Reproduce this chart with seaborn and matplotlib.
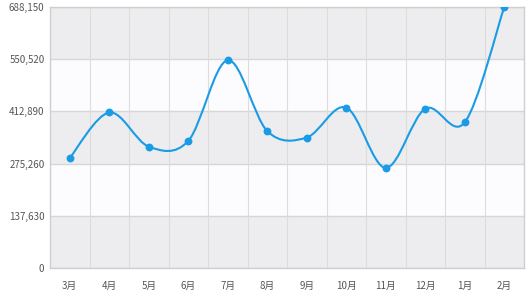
import numpy as np
import pandas as pd
import matplotlib
matplotlib.use("Agg")
import matplotlib.pyplot as plt
from matplotlib.path import Path
from matplotlib.patches import PathPatch
import seaborn as sns

months = ["3月", "4月", "5月", "6月", "7月", "8月", "9月", "10月", "11月", "12月", "1月", "2月"]
values = [290000, 410000, 320000, 335000, 548000, 361000, 344000, 423000, 264000, 420000, 384000, 688150]
y_ticks = [0, 137630, 275260, 412890, 550520, 688150]
y_tick_labels = ["0", "137,630", "275,260", "412,890", "550,520", "688,150"]

LINE = "#1a9be6"
GRID = "#d6d6d8"
BAND_DARK = "#ededef"
BAND_LIGHT = "#fcfcfe"

sns.set_style("white")
plt.rcParams["font.family"] = ["Noto Sans CJK SC", "DejaVu Sans"]

df = pd.DataFrame({"month": months, "value": values, "x": np.arange(len(months))})

fig = plt.figure(figsize=(5.29, 3.04), dpi=100)
ax = fig.add_axes([50 / 529, 36 / 304, 474 / 529, 261 / 304])

# alternating bands
for i in range(len(y_ticks) - 1):
    ax.axhspan(y_ticks[i], y_ticks[i + 1], color=BAND_DARK if i % 2 == 0 else BAND_LIGHT, zorder=0, lw=0)

# grid lines
for yv in y_ticks:
    ax.axhline(yv, color=GRID, lw=1.0, zorder=1)
for k in range(len(months) + 1):
    ax.axvline(k - 0.5, color="#dcdcdc", lw=0.8, zorder=1)

# smooth curve (Catmull-Rom as cubic Bezier) drawn in data coordinates
xs = df["x"].to_numpy(dtype=float)
ys = df["value"].to_numpy(dtype=float)
n = len(xs)
verts = [(xs[0], ys[0])]
codes = [Path.MOVETO]
for i in range(n - 1):
    p0 = (xs[max(i - 1, 0)], ys[max(i - 1, 0)])
    p1 = (xs[i], ys[i])
    p2 = (xs[i + 1], ys[i + 1])
    p3 = (xs[min(i + 2, n - 1)], ys[min(i + 2, n - 1)])
    t = 1 / 6
    c1 = (p1[0] + (p2[0] - p0[0]) * t, p1[1] + (p2[1] - p0[1]) * t)
    c2 = (p2[0] - (p3[0] - p1[0]) * t, p2[1] - (p3[1] - p1[1]) * t)
    verts += [c1, c2, p2]
    codes += [Path.CURVE4] * 3
ax.add_patch(PathPatch(Path(verts, codes), fill=False, edgecolor=LINE, lw=1.5, zorder=3))

sns.scatterplot(data=df, x="x", y="value", color=LINE, s=32, edgecolor=LINE, linewidth=0, ax=ax, zorder=4, legend=False)

ax.set_xlim(-0.5, len(months) - 0.5)
ax.set_ylim(0, y_ticks[-1])
ax.set_xticks(df["x"])
ax.set_xticklabels(months)
ax.set_yticks(y_ticks)
ax.set_yticklabels(y_tick_labels)
ax.set_xlabel("")
ax.set_ylabel("")
ax.tick_params(axis="both", length=0, labelsize=7, colors="#555555")
ax.tick_params(axis="x", pad=9)
ax.tick_params(axis="y", pad=4)
for s in ax.spines.values():
    s.set_color("#cfcfcf")
    s.set_linewidth(1.0)

fig.savefig("out.png", dpi=100, facecolor="white")
